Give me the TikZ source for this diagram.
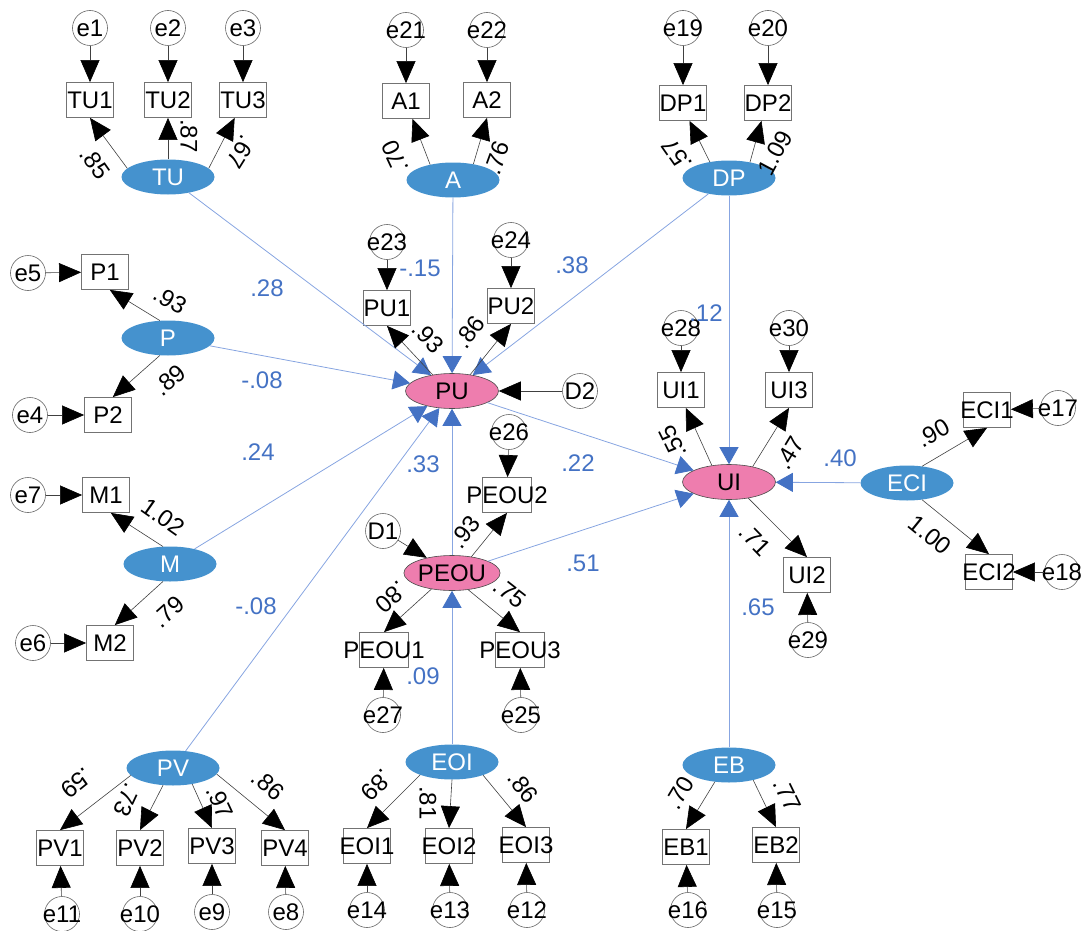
\documentclass[tikz,border=0pt]{standalone}
\usepackage{fontspec}
\setmainfont{Liberation Sans}
\usetikzlibrary{arrows.meta,shapes.geometric}
\definecolor{latb}{RGB}{69,146,206}
\definecolor{pinkc}{RGB}{238,125,174}
\definecolor{valb}{RGB}{68,114,196}
\definecolor{pathb}{RGB}{135,165,225}
\begin{document}
\begin{tikzpicture}[x=1pt,y=-1pt,
  every node/.style={font=\fontsize{24}{27}\selectfont},
  obs/.style={draw=black!55, line width=0.8pt, rectangle, minimum width=47pt, minimum height=35pt, inner xsep=-16pt, inner ysep=0pt},
  err/.style={draw=black!60, line width=0.6pt, circle, minimum size=35pt, inner xsep=-16pt, inner ysep=0pt},
  lat/.style={ellipse, fill=latb, text=white, minimum width=93pt, minimum height=35pt, inner sep=0pt},
  endo/.style={ellipse, fill=pinkc, draw=black!70, line width=0.6pt, minimum width=93pt, minimum height=35pt, inner sep=0pt},
  ld/.style={draw=black!75, line width=0.6pt, -{Triangle[length=22pt,width=19pt,color=black]}},
  st/.style={draw=pathb, line width=0.8pt, -{Triangle[length=17pt,width=19pt,color=valb]}},
  coef/.style={text=valb, inner sep=0pt},
  lab/.style={text=black, inner sep=0pt},
]
\useasboundingbox (0,0) rectangle (1084,931);

% ---------- nodes ----------
\node[err] (e1) at (90,28) {e1};
\node[err] (e2) at (168,28) {e2};
\node[err] (e3) at (243,28) {e3};
\node[obs] (TU1) at (90,100) {TU1};
\node[obs] (TU2) at (168,100) {TU2};
\node[obs] (TU3) at (243,100) {TU3};
\node[lat] (TU) at (168,177) {TU};

\node[err] (e21) at (406,30) {e21};
\node[err] (e22) at (487,30) {e22};
\node[obs] (A1) at (406,101) {A1};
\node[obs] (A2) at (487,100) {A2};
\node[lat] (A) at (453,180) {A};

\node[err] (e19) at (683,28) {e19};
\node[err] (e20) at (768,28) {e20};
\node[obs] (DP1) at (683,103) {DP1};
\node[obs] (DP2) at (768,103) {DP2};
\node[lat] (DP) at (729,178) {DP};

\node[err] (e5) at (28,273) {e5};
\node[obs] (P1) at (105,272) {P1};
\node[lat] (P) at (168,338) {P};
\node[err] (e4) at (30,415) {e4};
\node[obs] (P2) at (108,415) {P2};

\node[err] (e7) at (28,495) {e7};
\node[obs] (M1) at (106,495) {M1};
\node[lat] (M) at (170,564) {M};
\node[err] (e6) at (33,643) {e6};
\node[obs] (M2) at (110,643) {M2};

\node[lat] (PV) at (173,768) {PV};
\node[obs] (PV1) at (60,848) {PV1};
\node[obs] (PV2) at (140,848) {PV2};
\node[obs] (PV3) at (212,846) {PV3};
\node[obs] (PV4) at (285,848) {PV4};
\node[err] (e11) at (62,914) {e11};
\node[err] (e10) at (140,914) {e10};
\node[err] (e9) at (212,912) {e9};
\node[err] (e8) at (286,912) {e8};

\node[lat] (EOI) at (452,762) {EOI};
\node[obs] (EOI1) at (367,846) {EOI1};
\node[obs] (EOI2) at (449,846) {EOI2};
\node[obs] (EOI3) at (526,845) {EOI3};
\node[err] (e14) at (367,910) {e14};
\node[err] (e13) at (450,910) {e13};
\node[err] (e12) at (527,910) {e12};

\node[endo] (PEOU) at (452,573) {PEOU};
\node[err] (e26) at (509,432) {e26};
\node[obs] (PEOU2) at (507,495) {PEOU2};
\node[err] (D1) at (383,531) {D1};
\node[obs] (PEOU1) at (384,650) {PEOU1};
\node[obs] (PEOU3) at (520,650) {PEOU3};
\node[err] (e27) at (383,715) {e27};
\node[err] (e25) at (521,715) {e25};

\node[endo] (PU) at (452,391) {PU};
\node[err] (e23) at (387,242) {e23};
\node[err] (e24) at (511,240) {e24};
\node[obs] (PU1) at (387,308) {PU1};
\node[obs] (PU2) at (511,306) {PU2};
\node[err] (D2) at (580,391) {D2};

\node[endo] (UI) at (729,482) {UI};
\node[err] (e28) at (681,328) {e28};
\node[err] (e30) at (789,328) {e30};
\node[obs] (UI1) at (681,390) {UI1};
\node[obs] (UI3) at (789,390) {UI3};
\node[obs] (UI2) at (807,575) {UI2};
\node[err] (e29) at (808,640) {e29};

\node[lat] (ECI) at (907,483) {ECI};
\node[obs] (ECI1) at (987,410) {ECI1};
\node[err] (e17) at (1058,408) {e17};
\node[obs] (ECI2) at (989,572) {ECI2};
\node[err] (e18) at (1062,572) {e18};

\node[lat] (EB) at (729,765) {EB};
\node[obs] (EB1) at (686,847) {EB1};
\node[obs] (EB2) at (776,845) {EB2};
\node[err] (e16) at (688,910) {e16};
\node[err] (e15) at (777,910) {e15};

% ---------- structural paths ----------
\draw[st] (TU) -- (PU);
\draw[st] (A) -- (PU);
\draw[st] (DP) -- (PU);
\draw[st] (P) -- (PU);
\draw[st] (M) -- (PU);
\draw[st] (PV) -- (PU);
\draw[st] (PEOU) -- (PU);
\draw[st] (DP) -- (UI);
\draw[st] (PU) -- (UI);
\draw[st] (PEOU) -- (UI);
\draw[st] (ECI) -- (UI);
\draw[st] (EB) -- (UI);
\draw[st] (EOI) -- (PEOU);

% ---------- loadings ----------
\draw[ld] (TU.168) -- (TU1.south);
\draw[ld] (TU.north) -- (TU2.south);
\draw[ld] (TU.12) -- (TU3.-115);
\draw[ld] (A.146) -- (A1.-70);
\draw[ld] (A.38) -- (A2.south);
\draw[ld] (DP.140) -- (DP1.-70);
\draw[ld] (DP.37) -- (DP2.-110);
\draw[ld] (P.115) -- (P1.-75);
\draw[ld] (P.-115) -- (P2.75);
\draw[ld] (M.112) -- (M1.-75);
\draw[ld] (M.-112) -- (M2.75);
\draw[ld] (PV.-170) -- (PV1.north);
\draw[ld] (PV.-120) -- (PV2.north);
\draw[ld] (PV.-40) -- (PV3.north);
\draw[ld] (PV.-8) -- (PV4.north);
\draw[ld] (EOI.-158) -- (EOI1.north);
\draw[ld] (EOI.south) -- (EOI2.north);
\draw[ld] (EOI.-23) -- (EOI3.north);
\draw[ld] (PEOU.40) -- (PEOU2.south);
\draw[ld] (PEOU.-142) -- (PEOU1.north);
\draw[ld] (PEOU.-46) -- (PEOU3.north);
\draw[ld] (PU.140) -- (PU1.south);
\draw[ld] (PU.42) -- (PU2.south);
\draw[ld] (UI.136) -- (UI1.-75);
\draw[ld] (UI.33) -- (UI3.south);
\draw[ld] (UI.-40) -- (UI2.north);
\draw[ld] (ECI.48) -- (ECI1.south);
\draw[ld] (ECI.-48) -- (ECI2.north);
\draw[ld] (EB.-130) -- (EB1.north);
\draw[ld] (EB.-32) -- (EB2.north);

% ---------- error terms ----------
\draw[ld] (e1) -- (TU1);
\draw[ld] (e2) -- (TU2);
\draw[ld] (e3) -- (TU3);
\draw[ld] (e21) -- (A1);
\draw[ld] (e22) -- (A2);
\draw[ld] (e19) -- (DP1);
\draw[ld] (e20) -- (DP2);
\draw[ld] (e5) -- (P1);
\draw[ld] (e4) -- (P2);
\draw[ld] (e7) -- (M1);
\draw[ld] (e6) -- (M2);
\draw[ld] (e11) -- (PV1);
\draw[ld] (e10) -- (PV2);
\draw[ld] (e9) -- (PV3);
\draw[ld] (e8) -- (PV4);
\draw[ld] (e14) -- (EOI1);
\draw[ld] (e13) -- (EOI2);
\draw[ld] (e12) -- (EOI3);
\draw[ld] (e26) -- (PEOU2);
\draw[ld] (D1) -- (PEOU.149);
\draw[ld] (e27) -- (PEOU1);
\draw[ld] (e25) -- (PEOU3);
\draw[ld] (e23) -- (PU1);
\draw[ld] (e24) -- (PU2);
\draw[ld] (D2) -- (PU);
\draw[ld] (e28) -- (UI1);
\draw[ld] (e30) -- (UI3);
\draw[ld] (e29) -- (UI2);
\draw[ld] (e17) -- (ECI1);
\draw[ld] (e18) -- (ECI2);
\draw[ld] (e16) -- (EB1);
\draw[ld] (e15) -- (EB2);

% ---------- structural coefficients ----------
\node[coef] (c1) at (267,288) {.28};
\node[coef] (c2) at (420,268) {-.15};
\node[coef] (c3) at (572,265) {.38};
\node[coef] (c4) at (262,380) {-.08};
\node[coef] (c5) at (258,452) {.24};
\node[coef] (c6) at (256,606) {-.08};
\node[coef] (c7) at (423,464) {.33};
\node[coef] (c8) at (578,463) {.22};
\node[coef] (c9) at (583,563) {.51};
\node[coef] (c10) at (423,676) {.09};
\node[coef] (c11) at (706,313) {.12};
\node[coef] (c12) at (840,458) {.40};
\node[coef] (c13) at (758,607) {.65};

% ---------- loading values ----------
\node[lab, rotate=-55] (l1) at (95,163) {.85};
\node[lab, rotate=-90] (l2) at (189,136) {.87};
\node[lab, rotate=-122] (l3) at (241,152) {.67};
\node[lab, rotate=115] (l4) at (395,157) {.70};
\node[lab, rotate=70] (l5) at (497,158) {.76};
\node[lab, rotate=125] (l6) at (677,155) {.57};
\node[lab, rotate=62] (l7) at (775,153) {1.09};
\node[lab, rotate=-30] (l8) at (170,300) {.93};
\node[lab, rotate=40] (l9) at (170,380) {.89};
\node[lab, rotate=-35] (l10) at (163,517) {1.02};
\node[lab, rotate=42] (l11) at (168,612) {.79};
\node[lab, rotate=-141] (l12) at (77,783) {.59};
\node[lab, rotate=-115] (l13) at (127,800) {.73};
\node[lab, rotate=-65] (l14) at (220,802) {.97};
\node[lab, rotate=-41] (l15) at (268,785) {.86};
\node[lab, rotate=-134] (l16) at (377,785) {.89};
\node[lab, rotate=-90] (l17) at (428,803) {.81};
\node[lab, rotate=-52] (l18) at (523,787) {.86};
\node[lab, rotate=52] (l19) at (465,532) {.93};
\node[lab, rotate=-138] (l20) at (392,597) {.80};
\node[lab, rotate=-38] (l21) at (510,593) {.75};
\node[lab, rotate=-47] (l22) at (428,337) {.93};
\node[lab, rotate=54] (l23) at (470,332) {.86};
\node[lab, rotate=116] (l24) at (673,442) {.55};
\node[lab, rotate=59] (l25) at (790,453) {.47};
\node[lab, rotate=-46] (l26) at (755,540) {.71};
\node[lab, rotate=30] (l27) at (933,433) {.90};
\node[lab, rotate=-39] (l28) at (930,535) {1.00};
\node[lab, rotate=59] (l29) at (680,793) {.70};
\node[lab, rotate=-64] (l30) at (787,795) {.77};
\end{tikzpicture}
\end{document}
